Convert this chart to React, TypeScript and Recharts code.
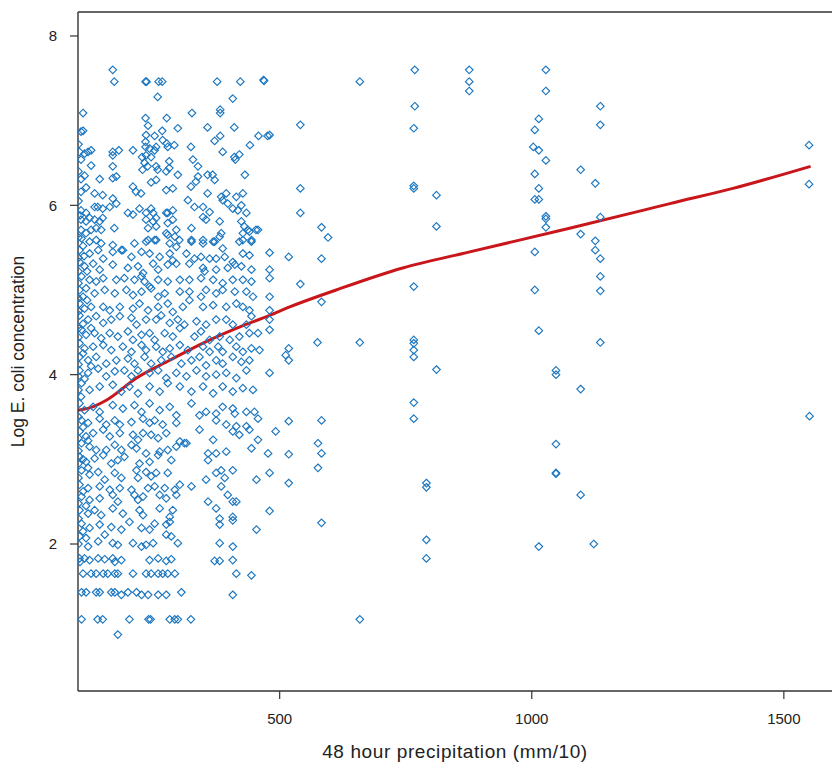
import { ComposedChart, Scatter, Line, XAxis, YAxis, Label } from "recharts";

const xTicks = [500, 1000, 1500];
const yTicks = [2, 4, 6, 8];
const xTitle = "48 hour precipitation (mm/10)";
const yTitle = "Log E. coli concentration";

type Pt = [number, number];

// precipitation > ~470, read one by one
const sparseObs: Pt[] = [
  [768, 7.6], [876, 7.6], [876, 7.46], [876, 7.35], [659, 7.46], [768, 7.17], [541, 6.95], [766, 6.91],
  [480, 6.83], [541, 6.2], [766, 6.23], [766, 6.2], [811, 6.12], [541, 5.91], [583, 5.74], [596, 5.62],
  [811, 5.75], [518, 5.39], [583, 5.37], [480, 5.44], [480, 5.24], [480, 5.14], [541, 5.07], [766, 5.04],
  [583, 4.86], [480, 4.92], [480, 4.76], [480, 4.65], [480, 4.53], [575, 4.38], [659, 4.38], [766, 4.41],
  [766, 4.37], [766, 4.29], [766, 4.21], [518, 4.31], [512, 4.23], [518, 4.17], [811, 4.06], [480, 4.02],
  [766, 3.67], [766, 3.48], [518, 3.45], [583, 3.46], [492, 3.33], [576, 3.19], [583, 3.07], [518, 3.06],
  [477, 3.07], [576, 2.9], [480, 2.84], [518, 2.72], [791, 2.72], [791, 2.67], [480, 2.39], [583, 2.25],
  [791, 2.05], [791, 1.83], [659, 1.11],
  [1028, 7.6], [1028, 7.35], [1136, 7.17], [1136, 6.95], [1014, 7.02], [1006, 6.89], [1003, 6.69],
  [1014, 6.65], [1028, 6.53], [1097, 6.42], [1006, 6.37], [1126, 6.26], [1014, 6.2], [1006, 6.07],
  [1014, 6.07], [1028, 5.87], [1028, 5.84], [1136, 5.86], [1028, 5.74], [1097, 5.66], [1126, 5.58],
  [1126, 5.47], [1006, 5.45], [1136, 5.37], [1136, 5.16], [1006, 5.0], [1136, 4.99], [1014, 4.52],
  [1136, 4.38], [1048, 4.05], [1048, 4.0], [1097, 3.83], [1048, 3.18], [1048, 2.83], [1048, 2.84],
  [1097, 2.58], [1014, 1.97], [1123, 2.0], [1550, 6.71], [1550, 6.25], [1551, 3.51],
];

// low precipitation, log count above ~6
const upperObs: Pt[] = [
  [169, 7.6], [172, 7.46], [234, 7.46], [236, 7.46], [260, 7.46], [267, 7.46], [258, 7.28], [376, 7.46],
  [422, 7.46], [468, 7.48], [469, 7.47], [407, 7.26], [110, 7.09], [234, 7.03], [239, 6.94], [276, 7.03],
  [326, 7.09], [382, 7.13], [382, 7.09], [110, 6.88], [106, 6.87], [267, 6.88], [298, 6.91], [357, 6.92],
  [410, 6.92], [252, 6.82], [235, 6.83], [371, 6.76], [382, 6.82], [458, 6.82], [476, 6.82], [441, 6.71],
  [234, 6.75], [234, 6.69], [242, 6.67], [255, 6.69], [252, 6.65], [268, 6.77], [278, 6.69], [276, 6.73],
  [291, 6.71], [324, 6.69], [387, 6.63], [410, 6.57], [420, 6.6], [412, 6.54], [103, 6.63], [113, 6.61],
  [120, 6.63], [126, 6.65], [106, 6.54], [169, 6.63], [169, 6.59], [181, 6.65], [209, 6.65], [227, 6.57],
  [235, 6.59], [245, 6.57], [281, 6.52], [328, 6.54], [338, 6.46], [126, 6.47], [169, 6.46], [232, 6.5],
  [238, 6.46], [228, 6.42], [255, 6.46], [258, 6.42], [275, 6.4], [281, 6.44], [298, 6.36], [357, 6.36],
  [367, 6.36], [371, 6.3], [431, 6.36], [106, 6.31], [116, 6.21], [106, 6.16], [143, 6.31], [169, 6.32],
  [176, 6.34], [209, 6.22], [215, 6.16], [225, 6.14], [245, 6.27], [255, 6.3], [275, 6.18], [288, 6.2],
  [324, 6.22], [334, 6.28], [338, 6.34], [357, 6.14], [384, 6.1], [394, 6.14], [414, 6.1], [427, 6.14],
  [133, 6.14], [149, 6.12], [169, 6.08],
];

// low precipitation, 5.5 to 6
const highMidObs: Pt[] = [
  [106, 5.94], [116, 5.91], [133, 5.98], [139, 5.98], [149, 5.96], [163, 5.98], [176, 6.02], [199, 5.91],
  [209, 5.89], [222, 5.96], [235, 5.91], [245, 5.96], [249, 5.91], [278, 5.91], [288, 5.94], [318, 6.06],
  [331, 5.98], [348, 5.98], [361, 5.92], [387, 6.06], [397, 6.02], [407, 5.96], [417, 5.94], [424, 6.0],
  [434, 5.91], [106, 5.83], [116, 5.81], [123, 5.85], [133, 5.83], [143, 5.81], [149, 5.85], [172, 5.73],
  [235, 5.83], [249, 5.81], [255, 5.85], [275, 5.91], [278, 5.79], [288, 5.83], [325, 5.73], [348, 5.86],
  [354, 5.83], [381, 5.81], [384, 5.67], [424, 5.81], [430, 5.75], [437, 5.71], [453, 5.71], [444, 5.59],
  [106, 5.71], [116, 5.67], [126, 5.71], [136, 5.73], [146, 5.71], [239, 5.73], [255, 5.75], [275, 5.67],
  [295, 5.71], [239, 5.59], [252, 5.59], [278, 5.65], [292, 5.63], [301, 5.59], [325, 5.59], [348, 5.59],
  [368, 5.57], [381, 5.63], [420, 5.57], [427, 5.67], [440, 5.69], [457, 5.71],
];

// low precipitation, 3.8 to 5.6
const midObs: Pt[] = [
  [107, 5.61], [123, 5.57], [136, 5.59], [146, 5.55], [169, 5.53], [186, 5.47], [212, 5.55], [235, 5.57],
  [255, 5.59], [282, 5.55], [295, 5.51], [325, 5.57], [348, 5.55], [371, 5.57], [387, 5.49], [427, 5.59],
  [444, 5.57], [103, 5.47], [123, 5.43], [140, 5.47], [150, 5.37], [169, 5.45], [189, 5.47], [206, 5.39],
  [226, 5.45], [242, 5.43], [262, 5.39], [282, 5.43], [288, 5.35], [315, 5.43], [331, 5.37], [344, 5.39],
  [361, 5.37], [374, 5.37], [391, 5.39], [407, 5.33], [427, 5.43], [440, 5.41], [103, 5.33], [113, 5.28],
  [130, 5.31], [143, 5.24], [169, 5.3], [199, 5.26], [219, 5.28], [229, 5.2], [249, 5.31], [259, 5.24],
  [278, 5.3], [295, 5.31], [321, 5.31], [348, 5.26], [351, 5.22], [374, 5.24], [397, 5.26], [411, 5.3],
  [424, 5.28], [444, 5.24], [107, 5.16], [123, 5.12], [136, 5.1], [150, 5.14], [176, 5.12], [192, 5.14],
  [212, 5.12], [226, 5.16], [232, 5.1], [242, 5.04], [259, 5.12], [278, 5.1], [302, 5.12], [321, 5.12],
  [344, 5.14], [368, 5.12], [387, 5.08], [407, 5.12], [427, 5.12], [444, 5.1], [103, 5.0], [116, 5.02],
  [133, 4.96], [153, 5.0], [173, 4.96], [196, 5.0], [209, 4.94], [226, 4.98], [245, 5.02], [259, 4.92],
  [272, 4.96], [302, 4.98], [321, 4.98], [344, 4.92], [354, 5.0], [374, 4.96], [387, 5.0], [411, 4.98],
  [434, 4.98], [447, 4.92], [103, 4.84], [113, 4.78], [126, 4.8], [150, 4.8], [163, 4.76], [183, 4.8],
  [209, 4.78], [222, 4.84], [239, 4.76], [259, 4.8], [278, 4.84], [288, 4.74], [308, 4.8], [321, 4.88],
  [348, 4.8], [368, 4.82], [394, 4.8], [414, 4.84], [427, 4.8], [440, 4.76], [103, 4.7], [120, 4.65],
  [136, 4.69], [150, 4.61], [166, 4.65], [183, 4.69], [206, 4.67], [216, 4.59], [235, 4.65], [255, 4.65],
  [265, 4.7], [282, 4.61], [298, 4.65], [311, 4.59], [335, 4.63], [354, 4.59], [374, 4.65], [394, 4.65],
  [407, 4.59], [434, 4.59], [444, 4.69], [107, 4.53], [116, 4.47], [133, 4.49], [146, 4.43], [163, 4.49],
  [179, 4.45], [199, 4.51], [209, 4.41], [226, 4.47], [242, 4.49], [252, 4.41], [272, 4.49], [288, 4.45],
  [302, 4.55], [331, 4.45], [344, 4.51], [361, 4.41], [381, 4.45], [401, 4.41], [420, 4.45], [440, 4.49],
  [457, 4.49], [103, 4.37], [113, 4.31], [130, 4.33], [150, 4.35], [166, 4.29], [189, 4.33], [206, 4.27],
  [226, 4.35], [235, 4.29], [255, 4.33], [268, 4.27], [282, 4.31], [302, 4.35], [318, 4.29], [348, 4.33],
  [361, 4.27], [378, 4.33], [387, 4.27], [414, 4.33], [427, 4.27], [444, 4.31], [460, 4.29], [103, 4.21],
  [120, 4.17], [136, 4.21], [156, 4.13], [176, 4.17], [199, 4.19], [212, 4.13], [232, 4.21], [245, 4.13],
  [265, 4.17], [285, 4.21], [305, 4.13], [325, 4.17], [341, 4.21], [354, 4.11], [374, 4.17], [387, 4.13],
  [407, 4.21], [424, 4.15], [440, 4.17], [103, 4.05], [120, 4.02], [140, 4.07], [156, 3.98], [173, 4.04],
  [192, 4.05], [206, 3.98], [219, 4.05], [242, 4.02], [259, 4.05], [275, 3.96], [295, 4.02], [315, 3.98],
  [335, 4.05], [354, 3.98], [374, 4.0], [394, 4.02], [414, 3.96], [434, 4.05], [107, 3.9], [123, 3.82],
  [143, 3.86], [169, 3.88], [186, 3.8], [202, 3.86], [219, 3.78], [242, 3.86], [262, 3.8], [278, 3.9],
  [302, 3.86], [325, 3.8], [348, 3.86], [368, 3.78], [387, 3.86], [407, 3.8], [427, 3.84], [447, 3.82],
];

// low precipitation, below 3.7
const lowObs: Pt[] = [
  [103, 3.66], [113, 3.58], [130, 3.62], [143, 3.56], [169, 3.64], [189, 3.6], [212, 3.64], [226, 3.56],
  [242, 3.66], [262, 3.58], [282, 3.62], [295, 3.52], [325, 3.66], [341, 3.52], [354, 3.56], [374, 3.54],
  [387, 3.62], [407, 3.6], [411, 3.54], [434, 3.56], [450, 3.56], [107, 3.46], [120, 3.43], [143, 3.48],
  [156, 3.41], [173, 3.46], [183, 3.41], [206, 3.44], [229, 3.48], [242, 3.43], [252, 3.46], [268, 3.41],
  [295, 3.43], [341, 3.35], [374, 3.46], [394, 3.41], [414, 3.39], [434, 3.39], [457, 3.48], [103, 3.33],
  [116, 3.27], [130, 3.31], [150, 3.35], [163, 3.27], [183, 3.31], [209, 3.29], [219, 3.23], [229, 3.31],
  [245, 3.29], [259, 3.25], [275, 3.31], [302, 3.21], [311, 3.19], [368, 3.23], [407, 3.33], [420, 3.29],
  [440, 3.35], [457, 3.23], [107, 3.19], [123, 3.15], [136, 3.11], [156, 3.11], [173, 3.17], [186, 3.11],
  [206, 3.17], [216, 3.13], [235, 3.07], [262, 3.09], [278, 3.11], [295, 3.15], [315, 3.19], [358, 3.07],
  [374, 3.07], [394, 3.09], [444, 3.13], [103, 3.03], [116, 2.97], [133, 3.01], [150, 3.05], [166, 2.95],
  [179, 2.99], [192, 3.03], [222, 2.95], [242, 2.97], [259, 3.05], [285, 2.99], [358, 2.99], [107, 2.87],
  [123, 2.82], [140, 2.85], [153, 2.76], [173, 2.84], [186, 2.78], [216, 2.87], [235, 2.85], [255, 2.84],
  [278, 2.84], [219, 2.78], [245, 2.8], [354, 2.76], [374, 2.84], [384, 2.87], [407, 2.87], [391, 2.78],
  [454, 2.76], [103, 2.7], [120, 2.66], [143, 2.68], [163, 2.64], [183, 2.66], [206, 2.64], [239, 2.66],
  [252, 2.68], [272, 2.66], [292, 2.64], [302, 2.7], [325, 2.68], [384, 2.68], [397, 2.58], [107, 2.56],
  [123, 2.52], [143, 2.54], [169, 2.58], [179, 2.5], [212, 2.58], [219, 2.52], [229, 2.56], [262, 2.58],
  [275, 2.54], [295, 2.58], [358, 2.5], [374, 2.42], [407, 2.5], [414, 2.5], [103, 2.4], [120, 2.36],
  [133, 2.4], [146, 2.34], [169, 2.42], [189, 2.36], [202, 2.26], [222, 2.4], [229, 2.34], [262, 2.42],
  [288, 2.4], [282, 2.32], [381, 2.3], [407, 2.32], [107, 2.24], [123, 2.19], [143, 2.23], [166, 2.2],
  [186, 2.17], [226, 2.19], [242, 2.17], [252, 2.24], [275, 2.23], [282, 2.26], [381, 2.23], [407, 2.28],
  [454, 2.17], [103, 2.09], [116, 2.07], [140, 2.03], [153, 2.11], [169, 2.01], [179, 1.99], [209, 2.01],
  [226, 1.97], [235, 1.99], [249, 2.01], [275, 2.11], [285, 2.09], [298, 2.01], [381, 2.01], [407, 1.97],
];

// the discrete low counts (rows near log 6, 5, 4, 3)
const floorObs: Pt[] = [
  [103, 1.83], [113, 1.83], [123, 1.81], [140, 1.83], [153, 1.82], [169, 1.83], [173, 1.79], [186, 1.81],
  [242, 1.81], [259, 1.83], [275, 1.8], [285, 1.82], [371, 1.8], [381, 1.8], [407, 1.81],
  [110, 1.65], [126, 1.65], [136, 1.65], [150, 1.65], [159, 1.65], [173, 1.65], [179, 1.65], [209, 1.65],
  [235, 1.65], [245, 1.65], [259, 1.65], [268, 1.65], [278, 1.65], [292, 1.65], [414, 1.65], [444, 1.63],
  [107, 1.43], [116, 1.43], [136, 1.43], [143, 1.43], [166, 1.43], [173, 1.43], [186, 1.4], [199, 1.43],
  [216, 1.43], [226, 1.4], [239, 1.4], [259, 1.4], [275, 1.4], [305, 1.43], [407, 1.4],
  [107, 1.11], [139, 1.11], [149, 1.11], [202, 1.11], [240, 1.11], [244, 1.11], [282, 1.11], [292, 1.11],
  [298, 1.11], [324, 1.11], [179, 0.93],
];

// crowded column right against the left axis
const edgeObs: Pt[] = [
  [101, 6.05], [104, 5.88], [101, 5.62], [110, 5.52], [101, 5.38], [112, 5.4], [101, 5.22], [118, 5.22],
  [101, 5.08], [110, 4.92], [101, 4.9], [118, 4.88], [101, 4.75], [110, 4.6], [101, 4.55], [126, 4.55],
  [101, 4.44], [110, 4.25], [101, 4.12], [126, 4.1], [101, 3.98], [113, 3.95], [101, 3.82], [106, 3.74],
  [101, 3.5], [110, 3.38], [101, 3.25], [120, 3.22], [101, 3.1], [110, 3.0], [101, 2.95], [120, 2.9],
  [101, 2.78], [110, 2.62], [101, 2.48], [116, 2.45], [101, 2.3], [110, 2.15], [101, 2.0], [120, 1.97],
  [104, 1.79], [101, 6.4], [101, 6.72], [113, 6.35],
];

// loess smoother
const smoothPrecip = [100, 125, 157, 216, 282, 347, 415, 480, 520, 612, 744, 877, 1075, 1220, 1274, 1399, 1553];
const smoothLogEcoli = [3.58, 3.61, 3.7, 3.96, 4.17, 4.37, 4.55, 4.7, 4.8, 5.0, 5.26, 5.45, 5.73, 5.94, 6.02, 6.2, 6.46];

const observations = [...upperObs, ...highMidObs, ...midObs, ...lowObs, ...floorObs, ...edgeObs, ...sparseObs].map(
  ([x, y]) => ({ x, y })
);
const smoothCurve = smoothPrecip.map((x, i) => ({ x, y: smoothLogEcoli[i] }));

const AXIS = "#333333";
const TEXT = "#222222";
const POINT = "#1a76c0";
const FONT = "'Liberation Sans', Arial, sans-serif";
const X_DOMAIN = [100, 1595.5];
const Y_DOMAIN = [0.264, 8.283];

function Diamond(props: any) {
  const { cx, cy } = props;
  if (cx == null || cy == null) return null;
  const r = 3.8;
  return (
    <path
      d={`M${cx},${cy - r}L${cx + r},${cy}L${cx},${cy + r}L${cx - r},${cy}Z`}
      fill="none"
      stroke={POINT}
      strokeWidth={1.15}
    />
  );
}

export default function App() {
  const axisLine = { stroke: AXIS, strokeWidth: 1.4 };
  const tickLine = { stroke: AXIS, strokeWidth: 1.2 };
  const tickStyle = { fill: TEXT, fontSize: 15, fontFamily: FONT };
  return (
    <div style={{ width: 832, height: 773, background: "#fff" }}>
      <style>{"body{margin:0;background:#fff}"}</style>
      <ComposedChart width={832} height={773} margin={{ top: 0, right: 0, bottom: 0, left: 0 }}>
        <XAxis
          xAxisId="top"
          orientation="top"
          type="number"
          dataKey="x"
          domain={X_DOMAIN}
          ticks={xTicks}
          allowDataOverflow
          height={12}
          tickSize={8}
          tick={false}
          axisLine={axisLine}
          tickLine={tickLine}
        />
        <XAxis
          type="number"
          dataKey="x"
          domain={X_DOMAIN}
          ticks={xTicks}
          allowDataOverflow
          height={82}
          tickSize={8}
          tickMargin={14}
          tick={tickStyle}
          axisLine={axisLine}
          tickLine={tickLine}
        >
          <Label
            value={xTitle}
            position="insideBottom"
            offset={15}
            style={{ fontSize: 19, letterSpacing: 0.6, fill: TEXT, fontFamily: FONT }}
          />
        </XAxis>
        <YAxis
          type="number"
          dataKey="y"
          domain={Y_DOMAIN}
          ticks={yTicks}
          allowDataOverflow
          width={78}
          tickSize={8}
          tickMargin={13}
          tick={tickStyle}
          axisLine={axisLine}
          tickLine={tickLine}
        >
          <Label
            value={yTitle}
            angle={-90}
            position="insideLeft"
            offset={18}
            style={{ fontSize: 17.5, fill: TEXT, fontFamily: FONT, textAnchor: "middle" }}
          />
        </YAxis>
        <Scatter data={observations} shape={<Diamond />} isAnimationActive={false} />
        <Line
          data={smoothCurve}
          dataKey="y"
          type="monotone"
          stroke="#c8161b"
          strokeWidth={3}
          dot={false}
          activeDot={false}
          isAnimationActive={false}
        />
      </ComposedChart>
    </div>
  );
}
